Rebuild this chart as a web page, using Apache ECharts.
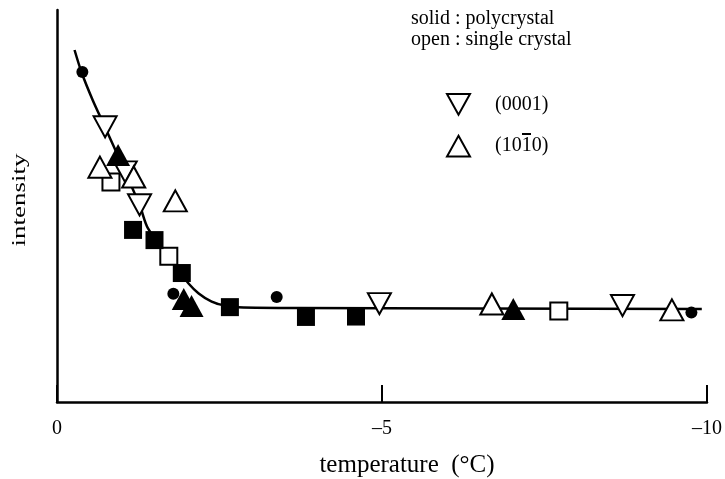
<!DOCTYPE html>
<html>
<head>
<meta charset="utf-8">
<script src="https://cdn.jsdelivr.net/npm/echarts@6/dist/echarts.min.js"></script>
<style>
  html, body { margin: 0; padding: 0; background: #fff; }
  #chart { width: 725px; height: 479px; }
</style>
</head>
<body>
<div id="chart"></div>
<script>
// Temperature (°C) and intensity (arbitrary units) for each sample/orientation.
const polyCircleT = [-0.39, -1.79, -3.38, -9.76];
const polyCircleI = [84.2, 27.6, 26.8, 22.8];

const polySquareT = [-1.17, -1.50, -1.92, -2.66, -3.83, -4.60];
const polySquareI = [43.9, 41.3, 32.9, 24.2, 21.7, 21.8];

const polyUpT = [-0.94, -1.95, -2.07, -7.02];
const polyUpI = [63.0, 26.3, 24.5, 23.7];

const singleDownT = [-0.74, -1.05, -1.27, -4.96, -8.70];
const singleDownI = [70.2, 58.7, 50.3, 25.1, 24.6];

const singleUpT = [-0.66, -1.18, -1.82, -6.69, -9.46];
const singleUpI = [59.9, 57.4, 51.3, 25.0, 23.5];

const singleSquareT = [-0.83, -1.72, -7.72];
const singleSquareI = [56.1, 37.2, 23.2];

// Guide curve through the data
const curveT = [-0.27, -0.38, -0.55, -0.74, -1.27, -1.40, -1.72, -1.92, -2.02, -2.18, -2.38, -2.58, -2.79, -3.70, -9.92];
const curveI = [89.8, 84.0, 77.0, 70.1, 50.3, 44.3, 37.2, 32.7, 30.3, 27.7, 25.6, 24.6, 24.2, 24.0, 23.7];

const xTicks = [0, -5, -10];

const pair = (xs, ys) => xs.map((x, i) => [x, ys[i]]);
const serif = 'Liberation Serif';

const openStyle = { color: '#fff', borderColor: '#000', borderWidth: 2, opacity: 1 };
const solidStyle = { color: '#000', opacity: 1 };

const chart = echarts.init(document.getElementById('chart'), null, { renderer: 'canvas' });

chart.setOption({
  animation: false,
  backgroundColor: '#fff',
  grid: { left: 57, right: 12, top: 10, bottom: 77 },
  xAxis: {
    type: 'value',
    min: -10, max: 0, interval: 5,
    inverse: true,
    axisLine: { lineStyle: { color: '#000', width: 2.5 } },
    axisTick: { inside: true, length: 17, lineStyle: { color: '#000', width: 2 } },
    axisLabel: {
      margin: 17, color: '#000', fontFamily: serif, fontSize: 20,
      formatter: v => xTicks.includes(v) ? (v < 0 ? '\u2013' + (-v) : String(v)) : ''
    },
    splitLine: { show: false }
  },
  yAxis: {
    type: 'value', min: 0, max: 100,
    axisLine: { show: true, lineStyle: { color: '#000', width: 2.5 } },
    axisTick: { show: false },
    axisLabel: { show: false },
    splitLine: { show: false }
  },
  legend: {
    orient: 'vertical',
    left: 441, top: 88,
    itemWidth: 23, itemHeight: 21, itemGap: 19,
    data: [
      { name: '(0001)', icon: 'path://M0,0L2,0L1,1.8Z' },
      { name: '(1010)', icon: 'path://M1,0L2,1.8L0,1.8Z' }
    ],
    itemStyle: { color: '#fff', borderColor: '#000', borderWidth: 2 },
    textStyle: { fontFamily: serif, fontSize: 20, color: '#000', padding: [0, 0, 0, 20] },
    selectedMode: false
  },
  graphic: [
    {
      type: 'text', left: 411, top: 8,
      style: { text: 'solid : polycrystal\nopen : single crystal', font: '20px "Liberation Serif"', fill: '#000', lineHeight: 21 }
    },
    {
      type: 'text', x: 20, y: 200, rotation: Math.PI / 2, scaleX: 1.5,
      style: { text: 'intensity', font: '18px "Liberation Serif"', fill: '#000', textAlign: 'center', textVerticalAlign: 'middle' }
    },
    {
      type: 'text', x: 407, y: 465,
      style: { text: 'temperature  (\u00B0C)', font: '25px "Liberation Serif"', fill: '#000', textAlign: 'center', textVerticalAlign: 'middle' }
    },
    {
      // overbar on the Miller-Bravais index
      type: 'line', shape: { x1: 522, y1: 134, x2: 531, y2: 134 },
      style: { stroke: '#000', lineWidth: 2 }
    }
  ],
  series: [
    {
      name: 'curve', type: 'line', data: pair(curveT, curveI),
      smooth: 0.3, showSymbol: false, symbol: 'none',
      lineStyle: { color: '#000', width: 2.5 }, z: 1
    },
    {
      name: '(0001)', type: 'scatter', data: pair(singleDownT, singleDownI),
      symbol: 'triangle', symbolRotate: 180, symbolSize: [23, 21], itemStyle: openStyle, z: 2
    },
    {
      name: 'open square', type: 'scatter', data: pair(singleSquareT, singleSquareI),
      symbol: 'rect', symbolSize: 17, itemStyle: openStyle, z: 2
    },
    {
      name: '(1010)', type: 'scatter', data: pair(singleUpT, singleUpI),
      symbol: 'triangle', symbolSize: [23, 21], itemStyle: openStyle, z: 2
    },
    {
      name: 'solid square', type: 'scatter', data: pair(polySquareT, polySquareI),
      symbol: 'rect', symbolSize: 18, itemStyle: solidStyle, z: 3
    },
    {
      name: 'solid triangle', type: 'scatter', data: pair(polyUpT, polyUpI),
      symbol: 'triangle', symbolSize: [24, 22], itemStyle: solidStyle, z: 3
    },
    {
      name: 'solid circle', type: 'scatter', data: pair(polyCircleT, polyCircleI),
      symbol: 'circle', symbolSize: 12, itemStyle: solidStyle, z: 3
    }
  ]
});
</script>
</body>
</html>
